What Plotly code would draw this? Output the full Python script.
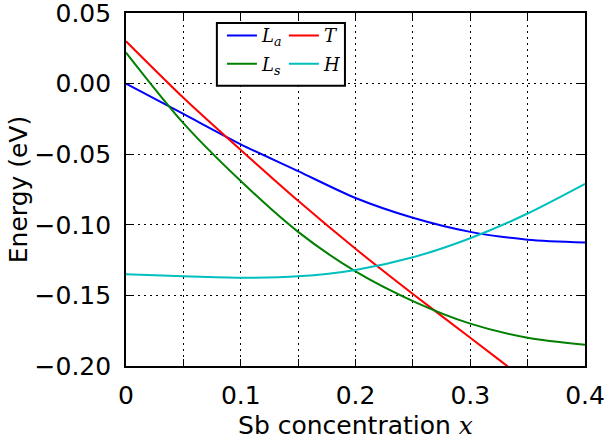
import plotly.graph_objects as go

x = [0.0, 0.05, 0.10, 0.15, 0.20, 0.25, 0.30, 0.35, 0.40]
La = [0.000, -0.0215, -0.043, -0.062, -0.081, -0.095, -0.105, -0.1105, -0.1125]
T = [0.030, -0.010, -0.047, -0.083, -0.117, -0.149, -0.180, -0.211, -0.241]
Ls = [0.022, -0.028, -0.069, -0.105, -0.133, -0.154, -0.170, -0.180, -0.185]
H = [-0.135, -0.1365, -0.1375, -0.1365, -0.132, -0.123, -0.1095, -0.092, -0.071]

x_tickvals = [0, 0.05, 0.1, 0.15, 0.2, 0.25, 0.3, 0.35, 0.4]
x_ticktext = ["0", "", "0.1", "", "0.2", "", "0.3", "", "0.4"]
y_tickvals = [0.05, 0.0, -0.05, -0.10, -0.15, -0.20]
y_ticktext = ["0.05", "0.00", "\u22120.05", "\u22120.10", "\u22120.15", "\u22120.20"]

SERIF = "DejaVu Serif"
FS = 25
fig = go.Figure()
series = [
    ("<i>L</i><sub><i>a</i></sub>", La, "#0000ff", "legend", "g1"),
    ("<i>T</i>", T, "#ff0000", "legend2", "g3"),
    ("<i>L</i><sub><i>s</i></sub>", Ls, "#008000", "legend", "g2"),
    ("<i>H</i>", H, "#00bfbf", "legend2", "g4"),
]
for name, ys, col, lg, grp in series:
    fig.add_trace(go.Scatter(x=x, y=ys, mode="lines", name=name, legendgroup=grp,
                             line=dict(color=col, width=2, shape="spline", smoothing=0.8),
                             legend=lg))

axis_common = dict(showline=True, linecolor="black", linewidth=1.6, mirror="ticks",
                   ticks="inside", ticklen=7, tickwidth=1.2, tickcolor="black",
                   showgrid=True, gridcolor="black", gridwidth=1, griddash="1.5px,4.5px",
                   zeroline=False, automargin=False, ticklabeloverflow="allow",
                   tickfont=dict(family="DejaVu Sans", size=FS, color="black"))

fig.update_xaxes(range=[0, 0.4], tickvals=x_tickvals, ticktext=x_ticktext,
                 ticklabelstandoff=6,
                 title=dict(text='Sb concentration <span style="font-family:DejaVu Serif"><i>x</i></span>',
                            font=dict(family="DejaVu Sans", size=FS, color="black"), standoff=8),
                 **axis_common)
fig.update_yaxes(range=[-0.20, 0.05], tickvals=y_tickvals, ticktext=y_ticktext,
                 ticklabelstandoff=8,
                 title=dict(text="Energy (eV)", font=dict(family="DejaVu Sans", size=FS, color="black"),
                            standoff=0),
                 **axis_common)

leg_common = dict(bgcolor="rgba(0,0,0,0)", borderwidth=0, xanchor="left", yanchor="top",
                  font=dict(family=SERIF, size=18, color="black"), itemwidth=30,
                  tracegroupgap=2)
fig.update_layout(
    width=608, height=446,
    margin=dict(l=126, r=23, t=13, b=80),
    plot_bgcolor="white", paper_bgcolor="white",
    legend=dict(x=0.209, y=0.988, **leg_common),
    legend2=dict(x=0.344, y=0.988, **leg_common),
    shapes=[dict(type="rect", xref="paper", yref="paper", x0=0.198, x1=0.477, y0=0.794, y1=0.972,
                 line=dict(color="black", width=2), fillcolor="white", layer="above")],
)
fig.write_html("out.html", config={"displayModeBar": False},
               post_script="document.body.style.margin='0';document.body.style.padding='0';"
                           "document.documentElement.style.margin='0';")
